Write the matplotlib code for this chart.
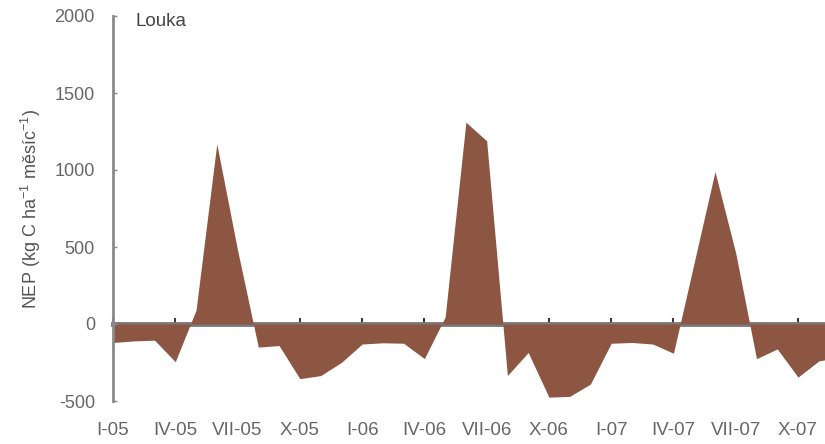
import matplotlib
matplotlib.use('Agg')
import matplotlib.pyplot as plt

plt.rcParams['font.family'] = ['Liberation Sans', 'DejaVu Sans']
plt.rcParams['mathtext.default'] = 'regular'
plt.rcParams['axes.unicode_minus'] = False

# monthly NEP, I-05 .. XII-07
months = list(range(36))
nep = [-120, -110, -105, -245, 90, 1170, 480, -150, -140, -355, -335, -250,
       -130, -122, -125, -225, 45, 1310, 1190, -335, -185, -475, -470, -390,
       -125, -120, -130, -190, 400, 990, 460, -225, -162, -345, -240, -215]
tick_pos = list(range(0, 36, 3))
tick_labels = ['I-05', 'IV-05', 'VII-05', 'X-05', 'I-06', 'IV-06', 'VII-06',
               'X-06', 'I-07', 'IV-07', 'VII-07', 'X-07']

fig = plt.figure(figsize=(8.25, 4.44), dpi=100)
ax = fig.add_axes([113/825, 1 - 401/444, 1 - 113/825, 385/444])

ax.fill_between(months, nep, 0, color='#8c5643', linewidth=0)

ax.set_xlim(0, 34.3)
ax.set_ylim(-500, 2000)
ax.set_yticks([-500, 0, 500, 1000, 1500, 2000])

for s in ['top', 'right', 'bottom']:
    ax.spines[s].set_visible(False)
ax.spines['left'].set_color('#8a8a8a')
ax.spines['left'].set_linewidth(2)

ax.tick_params(axis='y', direction='in', length=3, width=1, color='#8a8a8a',
               labelsize=13, labelcolor='#666666', pad=13)
ax.set_xticks(tick_pos)
ax.set_xticklabels(tick_labels)
ax.tick_params(axis='x', length=0, labelsize=13.5, labelcolor='#666666', pad=15)

# zero line with its own tick marks
zero = ax.secondary_xaxis(0.2)
zero.set_xticks(tick_pos)
zero.set_xticklabels([])
zero.spines['bottom'].set_color('#7a7a7a')
zero.spines['bottom'].set_linewidth(3.5)
zero.tick_params(direction='in', length=4, width=1.5, color='#3a3a3a')

ax.set_ylabel('NEP (kg C ha$^{-1}$ měsíc$^{-1}$)', fontsize=13, color='#555555')
ax.yaxis.set_label_coords(-0.098, 0.5)

ax.text(0.031, 1.008, 'Louka', transform=ax.transAxes, fontsize=13.5,
        color='#444444', ha='left', va='top')

fig.savefig('out.png', dpi=100)
